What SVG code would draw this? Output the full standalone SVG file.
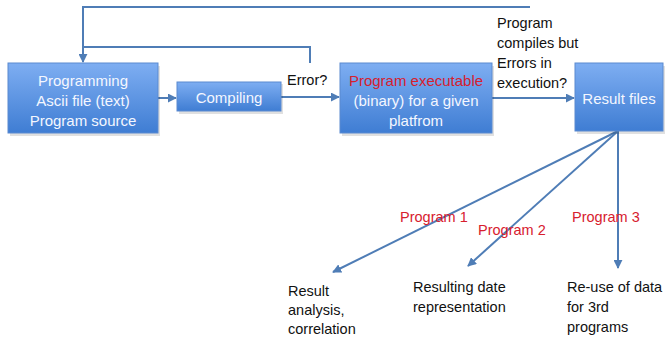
<svg xmlns="http://www.w3.org/2000/svg" width="667" height="338" viewBox="0 0 667 338">
<style>
.box{fill:url(#bg);stroke:#5b8ad0;stroke-width:1}
.sh{fill:#000;opacity:0.12}
.bt{font-family:"Liberation Sans",Arial,sans-serif;font-size:15px;fill:#f4f7ff;text-anchor:middle;dominant-baseline:central}
.red{fill:#d7202e}
.t{font-family:"Liberation Sans",Arial,sans-serif;font-size:14.5px;fill:#111;dominant-baseline:central}
.rt{font-family:"Liberation Sans",Arial,sans-serif;font-size:14.5px;fill:#d7202e;dominant-baseline:central}
.ln{fill:none;stroke:#4f7db6;stroke-width:2}
</style>
<defs>
<linearGradient id="bg" x1="0" y1="0" x2="0" y2="1">
<stop offset="0" stop-color="#7eaef2"/>
<stop offset="1" stop-color="#3f7dd3"/>
</linearGradient>
<marker id="ah" viewBox="0 0 10 10" refX="9" refY="5" markerWidth="4.5" markerHeight="4.5" orient="auto" markerUnits="strokeWidth">
<path d="M0,0 L10,5 L0,10 Z" fill="#4f7db6"/>
</marker>
</defs>
<g id="connectors">
<polyline class="ln" points="83,47 83,7 530,7"/>
<polyline class="ln" points="310,63 310,47 83,47 83,62" marker-end="url(#ah)"/>
<line class="ln" x1="158" y1="98" x2="176" y2="98" marker-end="url(#ah)"/>
<line class="ln" x1="281" y1="97" x2="339" y2="97" marker-end="url(#ah)"/>
<line class="ln" x1="492" y1="98" x2="574" y2="98" marker-end="url(#ah)"/>
<line class="ln" x1="618" y1="131" x2="333" y2="272" marker-end="url(#ah)"/>
<line class="ln" x1="618" y1="131" x2="468" y2="266" marker-end="url(#ah)"/>
<line class="ln" x1="618" y1="131" x2="618" y2="268" marker-end="url(#ah)"/>
</g>
<g id="source">
<rect class="sh" x="10" y="66" width="150" height="70"/>
<rect class="box" x="8" y="63" width="150" height="70"/>
<text class="bt" x="83" y="80">Programming</text>
<text class="bt" x="83" y="100">Ascii file (text)</text>
<text class="bt" x="83" y="120">Program source</text>
</g>
<g id="compiling">
<rect class="sh" x="179" y="84" width="104" height="30"/>
<rect class="box" x="177" y="82" width="104" height="29"/>
<text class="bt" x="229" y="97">Compiling</text>
</g>
<g id="executable">
<rect class="sh" x="342" y="66" width="152" height="70"/>
<rect class="box" x="340" y="63" width="152" height="70"/>
<text class="bt red" x="416" y="80">Program executable</text>
<text class="bt" x="416" y="100">(binary) for a given</text>
<text class="bt" x="416" y="120">platfrom</text>
</g>
<g id="results">
<rect class="sh" x="577" y="66" width="88" height="68"/>
<rect class="box" x="575" y="63" width="88" height="68"/>
<text class="bt" x="619" y="98">Result files</text>
</g>
<g id="labels">
<text class="t" x="287" y="80">Error?</text>
<text class="t" x="497" y="23">Program</text>
<text class="t" x="497" y="43">compiles but</text>
<text class="t" x="497" y="63">Errors in</text>
<text class="t" x="497" y="83">execution?</text>
<text class="rt" x="400" y="217">Program 1</text>
<text class="rt" x="478" y="230">Program 2</text>
<text class="rt" x="572" y="217">Program 3</text>
</g>
<g id="analysis">
<text class="t" x="288" y="291">Result</text>
<text class="t" x="288" y="310">analysis,</text>
<text class="t" x="288" y="329">correlation</text>
</g>
<g id="representation">
<text class="t" x="413" y="287">Resulting date</text>
<text class="t" x="413" y="307">representation</text>
</g>
<g id="reuse">
<text class="t" x="567" y="287">Re-use of data</text>
<text class="t" x="567" y="307">for 3rd</text>
<text class="t" x="567" y="327">programs</text>
</g>
</svg>
